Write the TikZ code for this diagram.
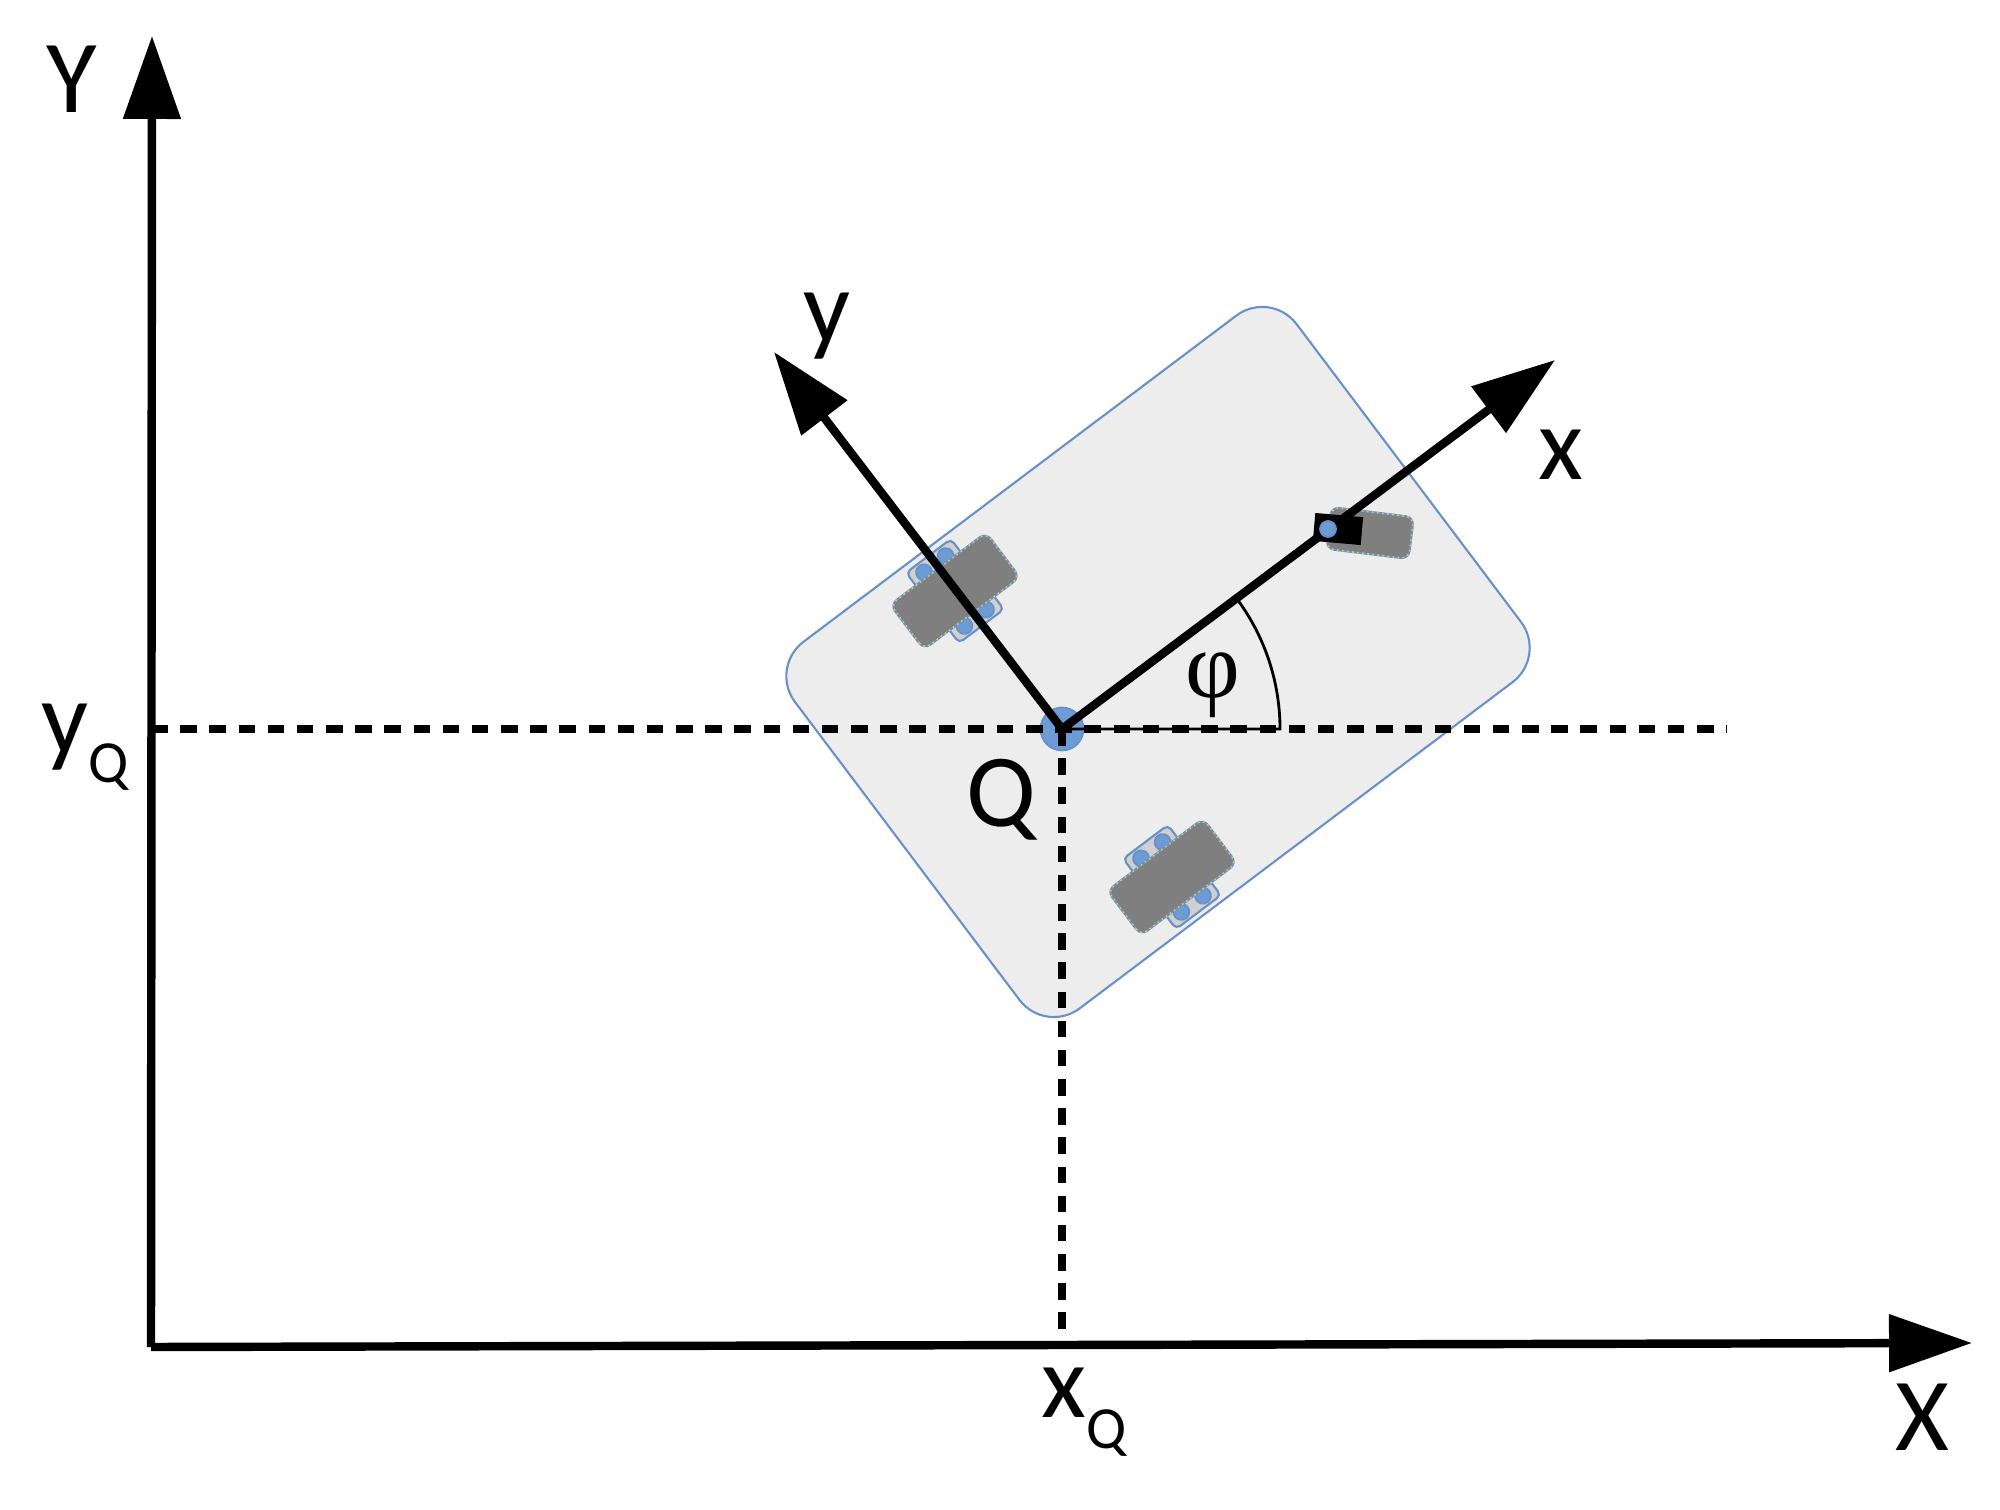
\documentclass[tikz,border=0pt]{standalone}
\usepackage{fontspec}
\setmainfont{Carlito}
\newfontfamily\phifont{Liberation Serif}
\usetikzlibrary{arrows.meta}
\definecolor{edgeblue}{HTML}{6A90C8}
\definecolor{dotblue}{HTML}{6C9BD6}
\definecolor{platform}{HTML}{EDEDED}
\definecolor{strip}{HTML}{D0D0D0}
\definecolor{tyre}{HTML}{7F7F7F}
\definecolor{tyreline}{HTML}{E8C93A}
\tikzset{
    axisline/.style={line width=2.4pt,-{Triangle[length=8.3mm,width=5.6mm]}},
    dashline/.style={line width=2.1pt,dash pattern=on 4.7pt off 3.6pt},
    thinline/.style={line width=0.8pt},
    axislabel/.style={font=\fontsize{29.5}{31}\selectfont,inner sep=0pt,anchor=base},
    hub/.style={fill=dotblue,draw=edgeblue,line width=0.5pt},
}
\newcommand{\subQ}[1]{\raisebox{#1}{\fontsize{17}{19}\selectfont Q}}
\newcommand{\tyrebody}[2]{%
    \fill[tyre,draw=edgeblue,line width=0.6pt,rounded corners=0.08cm] (-#1,-#2) rectangle (#1,#2);
    \draw[tyreline,line width=0.45pt,densely dotted,rounded corners=0.08cm] (-#1,-#2) rectangle (#1,#2);
}
\newcommand{\drivewheel}[2]{%
    \begin{scope}[shift={(#1,#2)},rotate=37]
        \draw[fill=strip,draw=edgeblue,line width=0.6pt,rounded corners=0.05cm] (-0.28,-0.44) rectangle (0.28,0.44);
        \foreach \u in {-0.135,0.135}
            \foreach \v in {-0.335,0.335}
                \draw[hub] (\u,\v) circle (0.08);
        \tyrebody{0.6}{0.28}
    \end{scope}
}
\begin{document}
\begin{tikzpicture}
    \useasboundingbox (0,0) rectangle (20,15.09);
    \coordinate (origin) at (1.51,1.62);
    \coordinate (Ytip) at (1.52,14.73);
    \coordinate (Xtip) at (19.72,1.66);
    \coordinate (Q) at (10.62,7.80);
    \coordinate (xtip) at (15.55,11.49);
    \coordinate (ytip) at (7.74,11.57);
    \coordinate (hleft) at (1.51,7.80);
    \coordinate (hright) at (17.27,7.80);
    \coordinate (vbottom) at (10.62,1.77);
    \coordinate (arcstart) at (12.80,7.80);

    % platform
    \node[fill=platform,draw=edgeblue,line width=0.6pt,rounded corners=0.43cm,rotate=37,
        minimum width=6.28cm,minimum height=4.59cm,inner sep=0pt] (platform) at (11.58,8.47) {};

    % wheels
    \drivewheel{9.55}{9.18}
    \drivewheel{11.72}{6.32}
    \begin{scope}[shift={(13.70,9.76)},rotate=-7]
        \tyrebody{0.415}{0.21}
    \end{scope}
    \fill[black,rotate around={-5:(13.38,9.80)}] (13.14,9.66) rectangle (13.62,9.94);

    \fill[dotblue,draw=edgeblue,line width=0.5pt] (Q) circle (0.215);

    % angle
    \draw[thinline] (Q) -- (arcstart) arc[start angle=0,end angle=36,radius=2.18];

    % dashed projections
    \draw[dashline] (hleft) -- (hright);
    \draw[dashline] (Q) -- (vbottom);

    % axes
    \draw[axisline] (origin) -- (Ytip);
    \draw[axisline] (origin) -- (Xtip);
    \draw[axisline] (Q) -- (xtip);
    \draw[axisline] (Q) -- (ytip);

    \draw[hub] (13.28,9.80) circle (0.08);

    % labels
    \node[axislabel] (labelY) at (0.72,13.96) {Y};
    \node[axislabel] (labelX) at (19.22,0.59) {X};
    \node[axislabel] (labelx) at (15.61,10.29) {x};
    \node[axislabel] (labely) at (8.27,11.66) {y};
    \node[axislabel] (labelQ) at (10.01,6.82) {Q};
    \node[axislabel,font=\fontsize{27}{29}\selectfont\phifont] (labelphi) at (12.13,8.11) {φ};
    \node[axislabel,anchor=base west] (labelyQ) at (0.41,7.55) {y\subQ{-8pt}};
    \node[axislabel,anchor=base west] (labelxQ) at (10.41,0.92) {x\subQ{-9pt}};
\end{tikzpicture}
\end{document}
